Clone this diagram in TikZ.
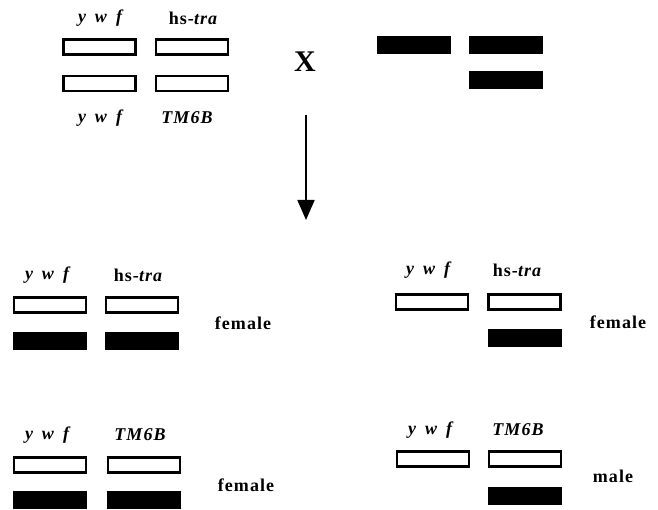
\documentclass[tikz,border=0pt]{standalone}
\usepackage{fontspec}
\setmainfont{Liberation Serif}
\newfontfamily\spacedserif[LetterSpace=6]{Liberation Serif}
\usetikzlibrary{arrows.meta}
\begin{document}
\begin{tikzpicture}[x=1pt,y=-1pt,
  openchr/.style={draw=black,line width=2.2pt,fill=white,minimum width=72pt,minimum height=15pt,inner sep=0pt},
  filledchr/.style={fill=black,minimum width=74pt,minimum height=18pt,inner sep=0pt},
  gene/.style={font=\fontsize{18}{20}\spacedserif\bfseries\itshape,inner sep=0pt},
  sexlbl/.style={font=\fontsize{18}{20}\spacedserif\bfseries,inner sep=0pt},
  cross/.style={font=\fontsize{30}{32}\selectfont\bfseries,inner sep=0pt}]
\useasboundingbox (0,0) rectangle (658,510);
\newcommand{\ywf}{y\hspace{0.5em}w\hspace{0.5em}f}
\newcommand{\hstra}{{\upshape hs-}tra}

% parental cross
\node[gene] (p1) at (100,18) {\ywf};
\node[gene] (p2) at (193,18) {\hstra};
\node[openchr] (pa) at (99.5,47) {};
\node[openchr] (pb) at (192,47) {};
\node[openchr] (pc) at (99.5,83.5) {};
\node[openchr] (pd) at (192,83.5) {};
\node[gene] (p3) at (100,118) {\ywf};
\node[gene] (p4) at (187,118) {TM6B};
\node[cross] (x) at (305,62) {X};
\node[filledchr] (qa) at (414,45) {};
\node[filledchr] (qb) at (505.5,45) {};
\node[filledchr] (qc) at (505.5,80.5) {};

% arrow to progeny
\coordinate (as) at (306,115);
\coordinate (ae) at (306,220);
\draw[line width=1.8pt,-{Triangle[width=17pt,length=20pt]}] (as) -- (ae);

% progeny: hs-tra, with X
\node[gene] (l1) at (47,275) {\ywf};
\node[gene] (l2) at (138,275) {\hstra};
\node[openchr] (la) at (50,305) {};
\node[openchr] (lb) at (142,305) {};
\node[filledchr] (lc) at (50,341) {};
\node[filledchr] (ld) at (142,341) {};
\node[sexlbl] (ls) at (243,323) {female};

% progeny: hs-tra, with Y
\node[gene] (r1) at (428,270) {\ywf};
\node[gene] (r2) at (517,270) {\hstra};
\node[openchr] (ra) at (432,302) {};
\node[openchr] (rb) at (524.5,302) {};
\node[filledchr] (rc) at (524.5,338) {};
\node[sexlbl] (rs) at (618,322) {female};

% progeny: TM6B, with X
\node[gene] (m1) at (47,435) {\ywf};
\node[gene] (m2) at (140,435) {TM6B};
\node[openchr] (ma) at (50,465) {};
\node[openchr] (mb) at (144,465) {};
\node[filledchr] (mc) at (50,500) {};
\node[filledchr] (md) at (144,500) {};
\node[sexlbl] (ms) at (246,485) {female};

% progeny: TM6B, with Y
\node[gene] (n1) at (430,430) {\ywf};
\node[gene] (n2) at (518,430) {TM6B};
\node[openchr] (na) at (433,459) {};
\node[openchr] (nb) at (525,459) {};
\node[filledchr] (nc) at (525,496) {};
\node[sexlbl] (ns) at (613,476) {male};
\end{tikzpicture}
\end{document}
